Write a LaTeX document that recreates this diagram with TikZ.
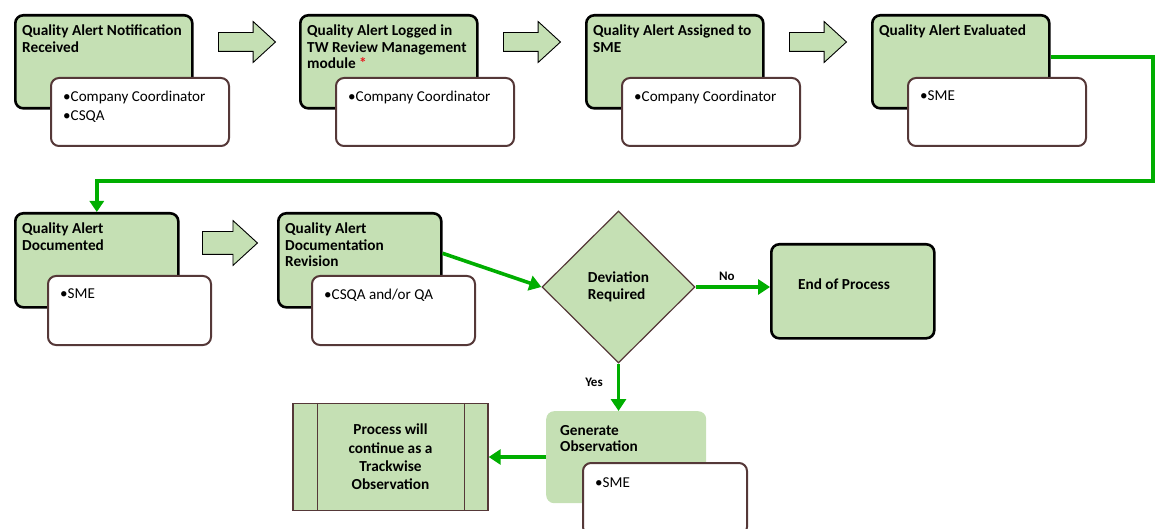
\documentclass[tikz,border=0pt]{standalone}
\usepackage{fontspec}
\setmainfont{Carlito}
\usepackage{xcolor}
\usetikzlibrary{positioning, arrows.meta, shapes.geometric, shapes.arrows, calc}
\definecolor{leafgreen}{HTML}{C5E0B4}
\definecolor{flowgreen}{HTML}{00AE00}
\definecolor{cocoa}{HTML}{553838}
\definecolor{alertred}{HTML}{E8141B}
\tikzset{
  stage/.style={draw=black, line width=2.6pt, rounded corners=8pt, fill=leafgreen, minimum width=177pt, minimum height=93pt, anchor=north west, inner sep=0pt},
  stagelow/.style={stage, minimum width=163pt, minimum height=94pt},
  roles/.style={draw=cocoa, line width=2pt, rounded corners=8pt, fill=white, minimum width=178pt, minimum height=68pt, anchor=north west, inner sep=0pt},
  roleslow/.style={roles, minimum width=163pt, minimum height=69pt},
  title/.style={anchor=north west, align=left, inner sep=0pt, font=\bfseries\fontsize{15.3}{16.5}\selectfont},
  rolelist/.style={anchor=north west, align=left, inner sep=0pt, font=\fontsize{15.1}{19}\selectfont},
  bigarrow/.style={single arrow, draw=black, line width=0.9pt, fill=leafgreen, inner sep=0pt, text width=0pt, text height=9pt, text depth=9pt, minimum height=57pt, single arrow head extend=11pt, single arrow tip angle=85, anchor=tail},
  decision/.style={diamond, draw=cocoa, line width=1.2pt, fill=leafgreen, minimum width=153pt, minimum height=152pt, inner sep=0pt, align=left, font=\bfseries\fontsize{15.3}{16.5}\selectfont},
  flow/.style={-{Triangle[length=12pt, width=15pt]}, line width=3.6pt, draw=flowgreen},
  answer/.style={font=\bfseries\fontsize{13}{15}\selectfont, inner sep=0pt},
}
\begin{document}
\begin{tikzpicture}[x=1pt, y=-1pt]
  \useasboundingbox (0,0) rectangle (1156,529);

  % First row of stages
  \node[stage] (notified) at (14,14) {};
  \node[title] (notifiedt) at ([xshift=8pt, yshift=-11pt]notified.north west)
    {Quality Alert Notification\\Received};
  \node[roles] (notifiedr) at ([xshift=36pt, yshift=-63pt]notified.north west) {};
  \node[rolelist] (notifiedl) at ([xshift=13pt, yshift=-14pt]notifiedr.north west)
    {•Company Coordinator\\•CSQA};

  \node[stage] (logged) at (299,14) {};
  \node[title] (loggedt) at ([xshift=8pt, yshift=-11pt]logged.north west)
    {Quality Alert Logged in\\TW Review Management\\module {\color{alertred}*}};
  \node[roles] (loggedr) at ([xshift=36pt, yshift=-63pt]logged.north west) {};
  \node[rolelist] (loggedl) at ([xshift=13pt, yshift=-14pt]loggedr.north west)
    {•Company Coordinator};

  \node[stage] (assigned) at (585,14) {};
  \node[title] (assignedt) at ([xshift=8pt, yshift=-11pt]assigned.north west)
    {Quality Alert Assigned to\\SME};
  \node[roles] (assignedr) at ([xshift=36pt, yshift=-63pt]assigned.north west) {};
  \node[rolelist] (assignedl) at ([xshift=13pt, yshift=-14pt]assignedr.north west)
    {•Company Coordinator};

  \node[stage] (evaluated) at (871,14) {};
  \node[title] (evaluatedt) at ([xshift=8pt, yshift=-11pt]evaluated.north west)
    {Quality Alert Evaluated};
  \node[roles] (evaluatedr) at ([xshift=36pt, yshift=-63pt]evaluated.north west) {};
  \node[rolelist] (evaluatedl) at ([xshift=13pt, yshift=-14pt]evaluatedr.north west)
    {•SME};

  % Block arrows between stages
  \node[bigarrow] (step1) at (218,42) {};
  \node[bigarrow] (step2) at (503,42) {};
  \node[bigarrow] (step3) at (789,42) {};

  % Second row
  \node[stagelow] (documented) at (14,212) {};
  \node[title] (documentedt) at ([xshift=8pt, yshift=-11pt]documented.north west)
    {Quality Alert\\Documented};
  \node[roleslow] (documentedr) at ([xshift=33pt, yshift=-63pt]documented.north west) {};
  \node[rolelist] (documentedl) at ([xshift=13pt, yshift=-14pt]documentedr.north west)
    {•SME};

  \node[stagelow] (revision) at (277,212) {};
  \node[title] (revisiont) at ([xshift=8pt, yshift=-11pt]revision.north west)
    {Quality Alert\\Documentation\\Revision};
  \node[roleslow] (revisionr) at ([xshift=34pt, yshift=-63pt]revision.north west) {};
  \node[rolelist] (revisionl) at ([xshift=13pt, yshift=-14pt]revisionr.north west)
    {•CSQA and/or QA};

  \node[bigarrow, minimum height=55pt, text height=11pt, text depth=11pt] (step4) at (202,243) {};

  % Decision and outcomes
  \node[decision] (deviation) at (618.5,287) {Deviation\\Required};
  \node[stagelow] (finish) at (770,243) {};
  \node[font=\bfseries\fontsize{15.3}{16.5}\selectfont, inner sep=0pt] (finisht) at (844,284) {End of Process};

  \node[fill=leafgreen, rounded corners=8pt, minimum width=160pt, minimum height=92pt, anchor=north west, inner sep=0pt] (generate) at (546,411) {};
  \node[title] (generatet) at ([xshift=14pt, yshift=-14pt]generate.north west)
    {Generate\\Observation};
  \node[roles, minimum width=164pt, minimum height=72pt] (generater) at (582,462) {};
  \node[rolelist] (generatel) at ([xshift=13pt, yshift=-15pt]generater.north west)
    {•SME};

  \node[draw=cocoa, line width=1.4pt, fill=leafgreen, minimum width=195pt, minimum height=107pt, inner sep=0pt, align=center,
        font=\bfseries\fontsize{15.3}{18.3}\selectfont] (trackwise) at (390.5,457)
    {Process will\\continue as a\\Trackwise\\Observation};
  \draw[draw=cocoa, line width=1.4pt] ([xshift=25pt]trackwise.north west) -- ([xshift=25pt]trackwise.south west);
  \draw[draw=cocoa, line width=1.4pt] ([xshift=-24pt]trackwise.north east) -- ([xshift=-24pt]trackwise.south east);

  % Connectors
  \coordinate (wrap) at (1153,181);
  \draw[flow, -{Triangle[length=11pt, width=14pt]}] ([yshift=5pt]evaluated.east) -| (wrap) -| (documented.north);
  \draw[flow] ([yshift=7pt]revision.east) -- (deviation.west);
  \draw[flow] (deviation.east) -- (deviation.east -| finish.west)
    node[answer, pos=0.42, above=5pt] (no) {No};
  \draw[flow] (deviation.south) -- (deviation.south |- generate.north)
    node[answer, pos=0.4, left=14pt] (yes) {Yes};
  \draw[flow] (generate.west |- trackwise.east) -- (trackwise.east);
\end{tikzpicture}
\end{document}
